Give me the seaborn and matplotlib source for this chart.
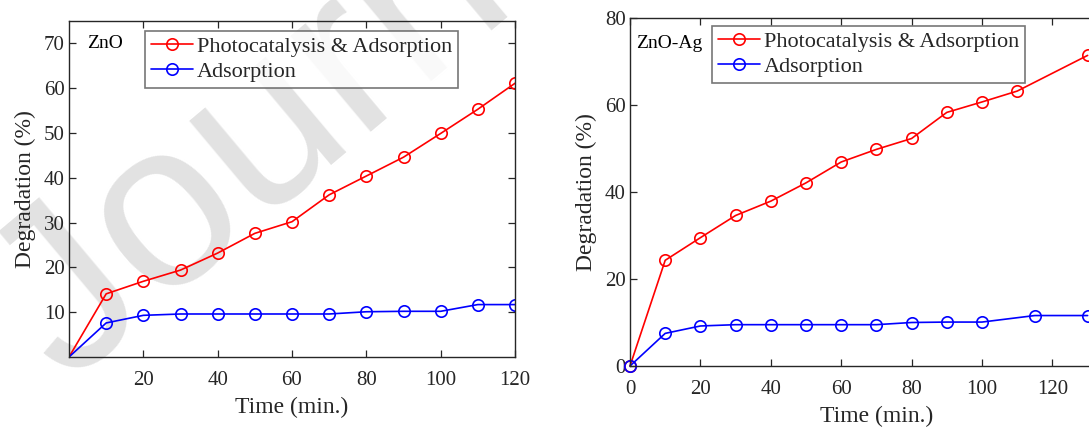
import matplotlib
matplotlib.use("Agg")
import matplotlib.pyplot as plt
import seaborn as sns
import pandas as pd
from matplotlib.lines import Line2D

# ---- data ----
zno_time_pa = [0, 10, 20, 30, 40, 50, 60, 70, 80, 90, 100, 110, 120]
zno_pa = [0, 14.1, 16.9, 19.4, 23.2, 27.6, 30.2, 36.2, 40.4, 44.6, 49.9, 55.3, 61.1]
zno_time_ad = [0, 10, 20, 30, 40, 50, 60, 70, 80, 90, 100, 110, 120]
zno_ad = [0, 7.6, 9.3, 9.6, 9.6, 9.6, 9.6, 9.6, 10.1, 10.2, 10.2, 11.7, 11.7]

ag_time_pa = [0, 10, 20, 30, 40, 50, 60, 70, 80, 90, 100, 110, 130]
ag_pa = [0, 24.3, 29.5, 34.6, 37.9, 42.1, 46.9, 49.8, 52.3, 58.3, 60.7, 63.2, 71.4]
ag_time_ad = [0, 10, 20, 30, 40, 50, 60, 70, 80, 90, 100, 115, 130]
ag_ad = [0, 7.5, 9.2, 9.5, 9.5, 9.5, 9.5, 9.5, 10.0, 10.1, 10.1, 11.6, 11.6]

series_labels = ["Photocatalysis & Adsorption", "Adsorption"]
panel_labels = ["ZnO", "ZnO-Ag"]
xlabel = "Time (min.)"
ylabel = "Degradation (%)"
watermark = "Journal Pre-proof"

sns.set_style("ticks")
plt.rcParams["font.family"] = ["Liberation Serif", "DejaVu Serif"]

W, H = 1089, 433
fig = plt.figure(figsize=(W / 100, H / 100), dpi=100)

# watermark (behind everything)
fig.text(68 / W, 1 - 386 / H, watermark, rotation=40, rotation_mode="anchor",
         fontsize=170, color="#e2e2e2", family=["Liberation Sans", "DejaVu Sans"],
         ha="left", va="baseline", zorder=-5)

def px_axes(l, t, r, b):
    return fig.add_axes([l / W, 1 - b / H, (r - l) / W, (b - t) / H])

ax1 = px_axes(69, 21, 515, 357)
ax2 = px_axes(630, 18, 630 + 140 * 3.52, 366)

tc = "#262626"
red = "#ff0000"
blue = "#0000ff"
MS = 8.2

def draw(ax, tpa, ypa, tad, yad, skip_first):
    me = slice(1, None) if skip_first else None
    df1 = pd.DataFrame({"t": tpa, "y": ypa})
    df2 = pd.DataFrame({"t": tad, "y": yad})
    sns.lineplot(data=df1, x="t", y="y", ax=ax, color=red, marker="o",
                 markersize=MS, markerfacecolor="none", markeredgecolor=red,
                 markeredgewidth=1.2, linewidth=1.2, markevery=me, clip_on=skip_first)
    sns.lineplot(data=df2, x="t", y="y", ax=ax, color=blue, marker="o",
                 markersize=MS, markerfacecolor="none", markeredgecolor=blue,
                 markeredgewidth=1.2, linewidth=1.2, markevery=me, clip_on=skip_first)
    ax.patch.set_alpha(0)
    for s in ax.spines.values():
        s.set_color(tc)
        s.set_linewidth(1.0)
        s.set_visible(True)
    ax.tick_params(direction="in", length=5, width=0.9, color=tc, labelcolor=tc,
                   labelsize=15, top=True, right=True)
    ax.tick_params(axis="x", pad=10)
    ax.tick_params(axis="y", pad=3)
    ax.set_xlabel(xlabel, fontsize=17, color=tc, labelpad=5)
    ax.set_ylabel(ylabel, fontsize=17, color=tc, labelpad=6)
    handles = [Line2D([], [], color=red, marker="o", markersize=MS, mfc="none", mew=1.2, lw=1.2),
               Line2D([], [], color=blue, marker="o", markersize=MS, mfc="none", mew=1.2, lw=1.2)]
    return handles

def add_legend(ax, h, x0, y0):
    leg = ax.legend(h, series_labels, loc="upper left", bbox_to_anchor=(x0, y0),
                    fontsize=16, frameon=True, fancybox=False, edgecolor="#555555",
                    handlelength=1.9, handletextpad=0.2, borderpad=0.25, labelspacing=0.2,
                    borderaxespad=0)
    leg.get_frame().set_linewidth(1.2)
    for t in leg.get_texts():
        t.set_color(tc)

h = draw(ax1, zno_time_pa, zno_pa, zno_time_ad, zno_ad, True)
ax1.set_xlim(0, 120)
ax1.set_ylim(0, 75)
ax1.set_xticks([20, 40, 60, 80, 100, 120])
ax1.set_yticks([10, 20, 30, 40, 50, 60, 70])
add_legend(ax1, h, (145 - 69) / 446, 1 - (31 - 21) / 336)
ax1.text((87 - 69) / 446, 1 - (44 - 21) / 336, panel_labels[0], transform=ax1.transAxes,
         fontsize=14, color="black", ha="left", va="center")

h = draw(ax2, ag_time_pa, ag_pa, ag_time_ad, ag_ad, False)
ax2.set_xlim(0, 140)
ax2.set_ylim(0, 80)
ax2.set_xticks([0, 20, 40, 60, 80, 100, 120])
ax2.set_yticks([0, 20, 40, 60, 80])
add_legend(ax2, h, (712 - 630) / 493, 1 - (26 - 18) / 348)
ax2.text((636 - 630) / 493, 1 - (43 - 18) / 348, panel_labels[1], transform=ax2.transAxes,
         fontsize=14, color="black", ha="left", va="center")

fig.savefig("out.png", dpi=100)
